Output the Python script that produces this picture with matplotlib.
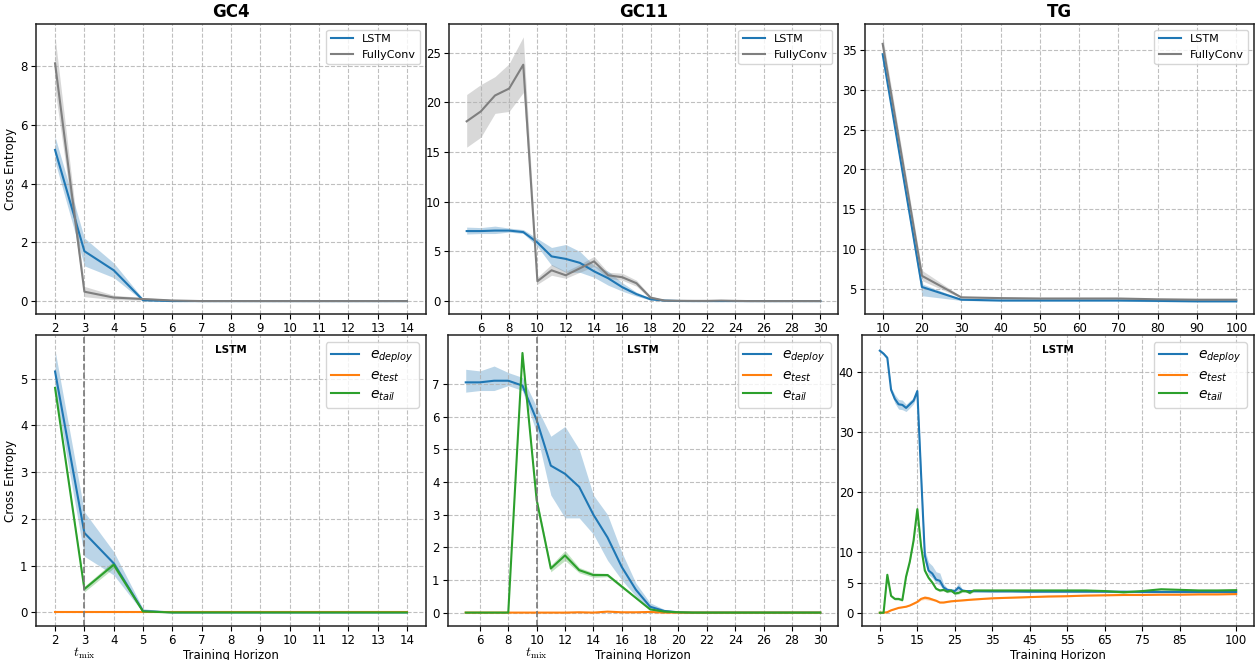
import matplotlib
matplotlib.use("Agg")
import matplotlib.pyplot as plt
import numpy as np

# ---------------- data ----------------
# GC4
gc4_x = [2, 3, 4, 5, 6, 7, 8, 9, 10, 11, 12, 13, 14]
gc4_lstm = [5.15, 1.7, 1.05, 0.03, 0.0, 0.0, 0.0, 0.0, 0.0, 0.0, 0.0, 0.0, 0.0]
gc4_lstm_lo = [4.75, 1.2, 0.8, 0.0, 0.0, 0.0, 0.0, 0.0, 0.0, 0.0, 0.0, 0.0, 0.0]
gc4_lstm_hi = [5.6, 2.15, 1.3, 0.08, 0.01, 0.0, 0.0, 0.0, 0.0, 0.0, 0.0, 0.0, 0.0]
gc4_fc = [8.1, 0.32, 0.12, 0.07, 0.02, 0.0, 0.0, 0.0, 0.0, 0.0, 0.0, 0.0, 0.0]
gc4_fc_lo = [7.2, 0.15, 0.05, 0.03, 0.0, 0.0, 0.0, 0.0, 0.0, 0.0, 0.0, 0.0, 0.0]
gc4_fc_hi = [9.0, 0.5, 0.2, 0.12, 0.05, 0.01, 0.0, 0.0, 0.0, 0.0, 0.0, 0.0, 0.0]
gc4_tail = [4.8, 0.5, 1.02, 0.02, 0.0, 0.0, 0.0, 0.0, 0.0, 0.0, 0.0, 0.0, 0.0]
gc4_tail_lo = [4.75, 0.44, 0.95, 0.0, 0.0, 0.0, 0.0, 0.0, 0.0, 0.0, 0.0, 0.0, 0.0]
gc4_tail_hi = [4.85, 0.56, 1.1, 0.04, 0.0, 0.0, 0.0, 0.0, 0.0, 0.0, 0.0, 0.0, 0.0]
gc4_test = [0.0] * 13
gc4_tmix = 3

# GC11
gc11_x = list(range(5, 31))
gc11_lstm = [7.05, 7.05, 7.1, 7.1, 6.95, 5.9, 4.5, 4.25, 3.85, 3.0, 2.3, 1.4, 0.7, 0.18, 0.05,
             0.01, 0.0, 0.0, 0.0, 0.0, 0.0, 0.0, 0.0, 0.0, 0.0, 0.0]
gc11_lstm_lo = [6.75, 6.8, 6.8, 6.95, 6.8, 5.5, 3.6, 2.9, 2.9, 2.4, 1.6, 1.0, 0.5, 0.1, 0.02,
                0.0, 0.0, 0.0, 0.0, 0.0, 0.0, 0.0, 0.0, 0.0, 0.0, 0.0]
gc11_lstm_hi = [7.45, 7.4, 7.55, 7.35, 7.2, 6.3, 5.4, 5.7, 5.0, 3.6, 3.0, 1.85, 0.9, 0.3, 0.1,
                0.03, 0.01, 0.0, 0.0, 0.0, 0.0, 0.0, 0.0, 0.0, 0.0, 0.0]
gc11_fc = [18.1, 19.1, 20.7, 21.4, 23.8, 2.0, 3.1, 2.6, 3.3, 4.0, 2.6, 2.4, 1.8, 0.35, 0.05,
           0.03, 0.02, 0.02, 0.05, 0.02, 0.0, 0.0, 0.0, 0.0, 0.0, 0.0]
gc11_fc_lo = [15.5, 16.5, 18.9, 19.1, 21.0, 1.7, 2.6, 2.3, 2.9, 3.5, 2.3, 2.1, 1.5, 0.2, 0.0,
              0.0, 0.0, 0.0, 0.0, 0.0, 0.0, 0.0, 0.0, 0.0, 0.0, 0.0]
gc11_fc_hi = [20.8, 21.8, 22.6, 23.9, 26.6, 2.4, 3.7, 3.0, 3.7, 4.5, 2.9, 2.8, 2.1, 0.5, 0.12,
              0.08, 0.05, 0.06, 0.12, 0.06, 0.02, 0.0, 0.0, 0.0, 0.0, 0.0]
gc11_tail = [0.0, 0.0, 0.0, 0.0, 7.95, 3.45, 1.35, 1.75, 1.3, 1.15, 1.15, 0.8, 0.45, 0.1, 0.03,
             0.01, 0.0, 0.0, 0.0, 0.0, 0.0, 0.0, 0.0, 0.0, 0.0, 0.0]
gc11_tail_lo = [0.0, 0.0, 0.0, 0.0, 7.9, 3.35, 1.25, 1.6, 1.22, 1.08, 1.1, 0.75, 0.42, 0.08, 0.02,
                0.0, 0.0, 0.0, 0.0, 0.0, 0.0, 0.0, 0.0, 0.0, 0.0, 0.0]
gc11_tail_hi = [0.0, 0.0, 0.0, 0.0, 8.0, 3.55, 1.45, 1.9, 1.38, 1.22, 1.2, 0.85, 0.48, 0.12, 0.04,
                0.02, 0.0, 0.0, 0.0, 0.0, 0.0, 0.0, 0.0, 0.0, 0.0, 0.0]
gc11_test = [0.0, 0.0, 0.0, 0.0, 0.0, 0.0, 0.0, 0.0, 0.01, 0.0, 0.03, 0.01, 0.01, 0.02, 0.0,
             0.0, 0.0, 0.0, 0.0, 0.0, 0.0, 0.0, 0.0, 0.0, 0.0, 0.0]
gc11_tmix = 10

# TG (top row)
tg_x = [10, 20, 30, 40, 50, 60, 70, 80, 90, 100]
tg_lstm = [34.5, 5.2, 3.6, 3.5, 3.5, 3.5, 3.5, 3.45, 3.4, 3.4]
tg_lstm_lo = [34.0, 4.1, 3.5, 3.4, 3.4, 3.4, 3.4, 3.35, 3.3, 3.3]
tg_lstm_hi = [35.0, 5.6, 3.7, 3.6, 3.6, 3.6, 3.6, 3.55, 3.5, 3.5]
tg_fc = [35.8, 6.6, 3.9, 3.8, 3.75, 3.75, 3.75, 3.65, 3.6, 3.6]
tg_fc_lo = [35.0, 6.0, 3.8, 3.7, 3.65, 3.65, 3.65, 3.55, 3.5, 3.5]
tg_fc_hi = [36.8, 7.3, 4.0, 3.9, 3.85, 3.85, 3.85, 3.75, 3.7, 3.7]

# TG (bottom row, LSTM errors)
tgb_x = [5, 6, 7, 8, 9, 10, 11, 12, 13, 14, 15, 16, 17, 18, 19, 20, 21, 22, 23, 24, 25, 26,
         27, 28, 29, 30, 35, 40, 45, 50, 55, 60, 65, 70, 75, 80, 85, 90, 95, 100]
tgb_deploy = [43.5, 43.0, 42.3, 37.0, 35.5, 34.6, 34.5, 34.0, 34.6, 35.2, 36.8, 23.0, 9.5, 7.0,
              6.5, 5.5, 5.3, 4.2, 3.8, 3.7, 3.6, 4.2, 3.7, 3.6, 3.6, 3.6, 3.55, 3.55, 3.5, 3.5,
              3.5, 3.5, 3.5, 3.5, 3.45, 3.45, 3.45, 3.45, 3.45, 3.45]
tgb_deploy_lo = [43.3, 42.8, 42.0, 36.6, 34.8, 33.8, 33.7, 33.4, 34.0, 34.7, 36.3, 22.0, 8.5, 6.3,
                 5.8, 4.9, 4.6, 3.8, 3.5, 3.4, 3.3, 3.7, 3.5, 3.4, 3.4, 3.4, 3.4, 3.4, 3.35, 3.35,
                 3.35, 3.35, 3.35, 3.35, 3.3, 3.3, 3.3, 3.3, 3.3, 3.3]
tgb_deploy_hi = [43.7, 43.2, 42.6, 37.4, 36.2, 35.4, 35.3, 34.6, 35.2, 35.7, 37.3, 24.0, 10.5, 8.4,
                 7.8, 6.8, 6.6, 4.8, 4.1, 4.0, 3.9, 5.0, 3.9, 3.8, 3.8, 3.8, 3.7, 3.7, 3.65, 3.65,
                 3.65, 3.65, 3.65, 3.65, 3.6, 3.6, 3.6, 3.6, 3.6, 3.6]
tgb_test = [0.0, 0.0, 0.1, 0.4, 0.6, 0.8, 0.9, 1.0, 1.2, 1.5, 1.8, 2.3, 2.5, 2.4, 2.2, 2.0, 1.7,
            1.7, 1.8, 1.9, 1.95, 2.0, 2.05, 2.1, 2.15, 2.2, 2.4, 2.5, 2.6, 2.7, 2.75, 2.85, 2.9,
            2.95, 2.95, 3.0, 3.0, 3.05, 3.05, 3.1]
tgb_test_lo = [0.0, 0.0, 0.05, 0.35, 0.55, 0.75, 0.85, 0.95, 1.15, 1.4, 1.7, 2.1, 2.2, 2.1, 2.0,
               1.85, 1.6, 1.6, 1.7, 1.8, 1.85, 1.9, 1.95, 2.0, 2.05, 2.1, 2.3, 2.4, 2.5, 2.6, 2.65,
               2.75, 2.8, 2.85, 2.85, 2.9, 2.9, 2.95, 2.95, 3.0]
tgb_test_hi = [0.0, 0.0, 0.15, 0.45, 0.65, 0.85, 0.95, 1.05, 1.25, 1.6, 1.9, 2.5, 2.8, 2.7, 2.4,
               2.15, 1.8, 1.8, 1.9, 2.0, 2.05, 2.1, 2.15, 2.2, 2.25, 2.3, 2.5, 2.6, 2.7, 2.8, 2.85,
               2.95, 3.0, 3.05, 3.05, 3.1, 3.1, 3.15, 3.15, 3.2]
tgb_tail = [0.0, 0.0, 6.3, 2.8, 2.3, 2.3, 2.1, 6.0, 8.5, 12.0, 17.2, 11.0, 7.0, 5.8, 5.0, 4.0,
            3.7, 3.8, 3.5, 3.7, 3.2, 3.3, 3.6, 3.6, 3.3, 3.7, 3.7, 3.7, 3.7, 3.7, 3.7, 3.7, 3.6,
            3.4, 3.6, 3.9, 3.8, 3.7, 3.7, 3.75]
tgb_tail_lo = [0.0, 0.0, 6.0, 2.6, 2.1, 2.1, 1.9, 5.7, 8.2, 11.6, 16.7, 10.5, 6.6, 5.5, 4.7, 3.8,
               3.5, 3.6, 3.3, 3.5, 3.0, 3.1, 3.4, 3.4, 3.1, 3.5, 3.55, 3.55, 3.55, 3.55, 3.55,
               3.55, 3.45, 3.25, 3.45, 3.75, 3.65, 3.55, 3.55, 3.6]
tgb_tail_hi = [0.0, 0.0, 6.6, 3.0, 2.5, 2.5, 2.3, 6.3, 8.8, 12.4, 17.7, 11.5, 7.4, 6.1, 5.3, 4.2,
               3.9, 4.0, 3.7, 3.9, 3.4, 3.5, 3.8, 3.8, 3.5, 3.9, 3.85, 3.85, 3.85, 3.85, 3.85,
               3.85, 3.75, 3.55, 3.75, 4.05, 3.95, 3.85, 3.85, 3.9]

# axis settings
gc4_ticks = list(range(2, 15))
gc11_ticks = list(range(6, 31, 2))
tg_ticks = list(range(10, 101, 10))
tgb_ticks = [5, 15, 25, 35, 45, 55, 65, 75, 85, 100]
tgb_yticks = [0, 5, 10, 20, 30, 40]

titles = ["GC4", "GC11", "TG"]

# ---------------- plotting ----------------
W, H = 1256, 660
fig = plt.figure(figsize=(W / 100, H / 100), dpi=100)

def rect(l, t, r, b):
    return [l / W, 1 - b / H, (r - l) / W, (b - t) / H]

axes_top = [fig.add_axes(rect(36, 24, 426, 314)),
            fig.add_axes(rect(449, 24, 838, 314)),
            fig.add_axes(rect(865, 24, 1254, 314))]
axes_bot = [fig.add_axes(rect(36, 335, 426, 626)),
            fig.add_axes(rect(448, 335, 838, 626)),
            fig.add_axes(rect(862, 335, 1254, 626))]

BLUE = "#1f77b4"
GRAY = "#7f7f7f"
ORANGE = "#ff7f0e"
GREEN = "#2ca02c"
TICKFS = 8.5

def style(ax):
    ax.grid(True, linestyle="--", color="#b0b0b0", alpha=0.8, linewidth=0.8)
    ax.tick_params(labelsize=TICKFS, pad=2.5)
    for s in ax.spines.values():
        s.set_linewidth(1.1)
        s.set_color("#222222")

def band(ax, x, m, lo, hi, c, label):
    ax.fill_between(x, lo, hi, color=c, alpha=0.3, linewidth=0)
    ax.plot(x, m, color=c, lw=1.5, label=label)

# top row
top_data = [
    (gc4_x, gc4_lstm, gc4_lstm_lo, gc4_lstm_hi, gc4_fc, gc4_fc_lo, gc4_fc_hi, gc4_ticks, (-0.44, 9.44), (1.35, 14.65)),
    (gc11_x, gc11_lstm, gc11_lstm_lo, gc11_lstm_hi, gc11_fc, gc11_fc_lo, gc11_fc_hi, gc11_ticks, (-1.3, 27.9), (3.75, 31.25)),
    (tg_x, tg_lstm, tg_lstm_lo, tg_lstm_hi, tg_fc, tg_fc_lo, tg_fc_hi, tg_ticks, (1.8, 38.3), (5.5, 104.5)),
]
for ax, title, d in zip(axes_top, titles, top_data):
    x, l, llo, lhi, f, flo, fhi, ticks, yl, xl = d
    band(ax, x, l, llo, lhi, BLUE, "LSTM")
    band(ax, x, f, flo, fhi, GRAY, "FullyConv")
    ax.set_xticks(ticks)
    ax.set_ylim(*yl)
    ax.set_xlim(*xl)
    ax.set_title(title, fontsize=12, fontweight="bold", pad=5)
    ax.legend(loc="upper right", fontsize=8, framealpha=0.8)
    style(ax)
axes_top[0].set_ylabel("Cross Entropy", fontsize=8.5, labelpad=2)
axes_top[0].set_yticks([0, 2, 4, 6, 8])
axes_top[2].set_yticks([5, 10, 15, 20, 25, 30, 35])

# bottom row
bot_data = [
    (gc4_x, gc4_lstm, gc4_lstm_lo, gc4_lstm_hi, gc4_test, gc4_test, gc4_test,
     gc4_tail, gc4_tail_lo, gc4_tail_hi, gc4_ticks, (-0.29, 5.93), (1.35, 14.65), gc4_tmix),
    (gc11_x, gc11_lstm, gc11_lstm_lo, gc11_lstm_hi, gc11_test, gc11_test, gc11_test,
     gc11_tail, gc11_tail_lo, gc11_tail_hi, gc11_ticks, (-0.41, 8.5), (3.75, 31.25), gc11_tmix),
    (tgb_x, tgb_deploy, tgb_deploy_lo, tgb_deploy_hi, tgb_test, tgb_test_lo, tgb_test_hi,
     tgb_tail, tgb_tail_lo, tgb_tail_hi, tgb_ticks, (-2.2, 46.1), (0.25, 104.75), None),
]
for ax, d in zip(axes_bot, bot_data):
    x, dm, dlo, dhi, tm, tlo, thi, am, alo, ahi, ticks, yl, xl, tmix = d
    band(ax, x, dm, dlo, dhi, BLUE, r"$e_{deploy}$")
    band(ax, x, tm, tlo, thi, ORANGE, r"$e_{test}$")
    band(ax, x, am, alo, ahi, GREEN, r"$e_{tail}$")
    if tmix is not None:
        ax.axvline(tmix, color="#777777", linestyle="--", lw=1.2)
        ax.text(tmix, -0.068, r"$t_{\rm mix}$", transform=ax.get_xaxis_transform(),
                ha="center", va="top", fontsize=10, math_fontfamily="cm")
    ax.set_xticks(ticks)
    ax.set_ylim(*yl)
    ax.set_xlim(*xl)
    ax.set_xlabel("Training Horizon", fontsize=8.5, labelpad=1)
    ax.text(0.5, 0.965, "LSTM", transform=ax.transAxes, ha="center", va="top",
            fontsize=7.5, fontweight="bold")
    ax.legend(loc="upper right", fontsize=10, framealpha=0.8, labelspacing=0.25,
              borderpad=0.4)
    style(ax)
axes_bot[0].set_ylabel("Cross Entropy", fontsize=8.5, labelpad=2)
axes_bot[1].set_yticks(list(range(0, 8)))
axes_bot[2].set_yticks(tgb_yticks)

fig.savefig("out.png", dpi=100)
